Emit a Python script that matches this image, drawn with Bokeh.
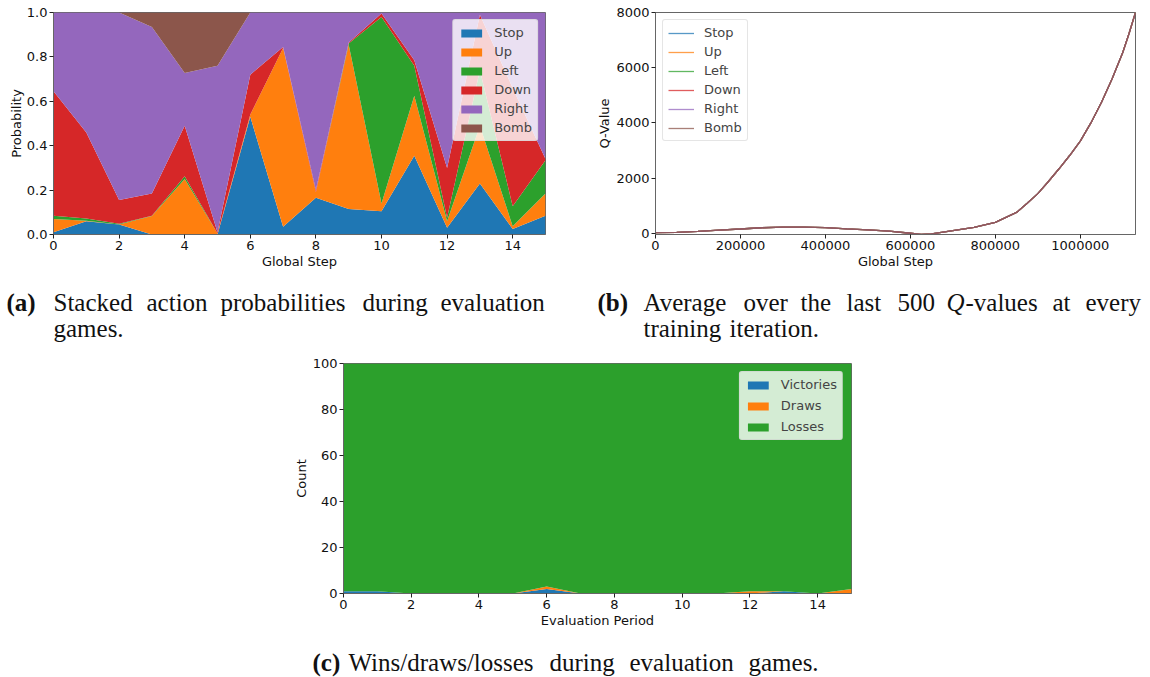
from bokeh.plotting import figure
from bokeh.models import Range1d, FixedTicker, BasicTickFormatter, NumeralTickFormatter, ColumnDataSource, Spacer
from bokeh.layouts import column, row
from bokeh.embed import file_html
from bokeh.resources import INLINE
from bokeh.core.properties import value

# ---------------- data ----------------
steps = list(range(16))
actions = ["Stop", "Up", "Left", "Down", "Right", "Bomb"]
colors = ["#1f77b4", "#ff7f0e", "#2ca02c", "#d62728", "#9467bd", "#8c564b"]

p_stop = [0.010, 0.060, 0.045, 0.000, 0.000, 0.000, 0.530, 0.035, 0.165, 0.115, 0.105, 0.355, 0.030, 0.230, 0.025, 0.085]
p_up = [0.060, 0.002, 0.000, 0.083, 0.250, 0.005, 0.010, 0.805, 0.025, 0.740, 0.035, 0.270, 0.030, 0.260, 0.012, 0.100]
p_left = [0.015, 0.010, 0.003, 0.001, 0.012, 0.000, 0.000, 0.000, 0.000, 0.005, 0.840, 0.135, 0.015, 0.250, 0.090, 0.150]
p_down = [0.560, 0.388, 0.107, 0.101, 0.228, 0.005, 0.180, 0.005, 0.010, 0.005, 0.015, 0.025, 0.225, 0.250, 0.533, 0.005]
p_right = [0.355, 0.540, 0.845, 0.750, 0.238, 0.750, 0.280, 0.155, 0.800, 0.135, 0.005, 0.215, 0.700, 0.010, 0.340, 0.660]
p_bomb = [0.000, 0.000, 0.000, 0.065, 0.272, 0.240, 0.000, 0.000, 0.000, 0.000, 0.000, 0.000, 0.000, 0.000, 0.000, 0.000]

q_steps = [0, 50000, 100000, 150000, 200000, 250000, 300000, 350000, 400000, 450000, 500000,
           550000, 600000, 625000, 650000, 700000, 750000, 800000, 850000, 875000, 900000,
           925000, 950000, 975000, 1000000, 1025000, 1050000, 1075000, 1100000, 1115000, 1130000]
q_avg = [25, 35, 75, 120, 160, 205, 230, 230, 210, 165, 125,
         85, 5, -35, -15, 100, 220, 400, 760, 1090, 1440,
         1880, 2340, 2820, 3340, 4000, 4750, 5600, 6550, 7250, 8000]

periods = list(range(16))
victories = [1, 1, 0, 0, 0, 0, 2, 0, 0, 0, 0, 0, 0, 1, 0, 0]
draws = [0, 0, 0, 0, 0, 0, 1, 0, 0, 0, 0, 0, 1, 0, 0, 2]
losses = [99, 99, 100, 100, 100, 100, 97, 100, 100, 100, 100, 100, 99, 99, 100, 98]
outcomes = ["Victories", "Draws", "Losses"]

a_ticks = [0, 2, 4, 6, 8, 10, 12, 14]
a_yticks = [0.0, 0.2, 0.4, 0.6, 0.8, 1.0]
b_xticks = [0, 200000, 400000, 600000, 800000, 1000000]
b_yticks = [0, 2000, 4000, 6000, 8000]
c_yticks = [0, 20, 40, 60, 80, 100]

cap_a1 = ["Stacked", "action", "probabilities", "during", "evaluation"]
cap_a2 = ["games."]
cap_b1a = ["Average", "over", "the", "last", "500"]
cap_b1q = "Q"
cap_b1b = ["-values", "at", "every"]
cap_b2 = ["training", "iteration."]
cap_c = ["Wins/draws/losses", "during", "evaluation", "games."]

FONT = "DejaVu Sans"
SERIF = "Liberation Serif"
CAP_SIZE = "25px"


def style(p, xlabel, ylabel):
    p.grid.visible = False
    p.xaxis.axis_label = xlabel
    p.yaxis.axis_label = ylabel
    for ax in p.axis:
        ax.axis_label_text_font = FONT
        ax.axis_label_text_font_size = "13px"
        ax.axis_label_text_font_style = "normal"
        ax.axis_label_text_color = "#111111"
        ax.major_label_text_font = FONT
        ax.major_label_text_font_size = "13px"
        ax.major_label_text_color = "#111111"
        ax.major_tick_out = 4
        ax.major_tick_in = 0
        ax.minor_tick_out = 0
        ax.minor_tick_in = 0
        ax.axis_line_color = "#666666"
        ax.major_tick_line_color = "#222222"
        ax.axis_label_standoff = 1
        ax.major_label_standoff = 2
    p.outline_line_color = "#666666"
    p.background_fill_color = "white"
    p.border_fill_color = "white"


def style_legend(p, loc, margin):
    lg = p.legend[0]
    lg.location = loc
    lg.margin = margin
    lg.label_text_font = FONT
    lg.label_text_font_size = "13px"
    lg.label_height = 15
    lg.glyph_height = 10
    lg.glyph_width = 26
    lg.spacing = 4
    lg.padding = 5
    lg.label_standoff = 10
    lg.border_line_color = "#cccccc"
    lg.background_fill_alpha = 0.8
    lg.border_radius = 3


def caption_fig(h):
    c = figure(width=1150, height=h, x_range=Range1d(0, 1150), y_range=Range1d(0, h),
               min_border=0, output_backend="svg", toolbar_location=None)
    c.axis.visible = False
    c.grid.visible = False
    c.outline_line_color = None
    return c


def words(c, xs, y, texts, style="normal"):
    c.text(x=xs, y=[y] * len(xs), text=texts, text_font=value(SERIF), text_font_size=CAP_SIZE,
           text_font_style=style, text_baseline="middle", text_color="#111111")


# ---------------- panel a ----------------
pa = figure(frame_width=492, frame_height=222, min_border_left=53, min_border_right=40,
            min_border_top=12, min_border_bottom=44, x_range=Range1d(0, 15), y_range=Range1d(0, 1),
            output_backend="svg", toolbar_location=None)
src_a = ColumnDataSource(dict(step=steps, Stop=p_stop, Up=p_up, Left=p_left, Down=p_down,
                              Right=p_right, Bomb=p_bomb))
pa.varea_stack(stackers=actions, x="step", color=colors, source=src_a, legend_label=actions)
style(pa, "Global Step", "Probability")
pa.yaxis.axis_label_standoff = 0
pa.xaxis.ticker = FixedTicker(ticks=a_ticks)
pa.yaxis.ticker = FixedTicker(ticks=a_yticks)
pa.yaxis.formatter = NumeralTickFormatter(format="0.0")
style_legend(pa, "top_right", 7)

# ---------------- panel b ----------------
pb = figure(frame_width=480, frame_height=222, min_border_left=70, min_border_right=15,
            min_border_top=12, min_border_bottom=44, x_range=Range1d(0, 1130000), y_range=Range1d(-40, 8000),
            output_backend="svg", toolbar_location=None)
for name, col in zip(actions, colors):
    pb.line(q_steps, q_avg, line_color=col, line_width=1.3, line_alpha=0.75, legend_label=name)
style(pb, "Global Step", "Q-Value")
pb.xaxis.ticker = FixedTicker(ticks=b_xticks)
pb.yaxis.ticker = FixedTicker(ticks=b_yticks)
pb.xaxis.formatter = BasicTickFormatter(use_scientific=False)
style_legend(pb, "top_left", 7)

# ---------------- captions a/b ----------------
cab = caption_fig(67)
words(cab, [6, 597], 43, ["(a)", "(b)"], "bold")
words(cab, [53, 146, 220, 362, 440], 43, cap_a1)
words(cab, [53], 17, cap_a2)
words(cab, [643, 743, 800, 846, 897], 43, cap_b1a)
words(cab, [946], 43, [cap_b1q], "italic")
words(cab, [965, 1052, 1085], 43, cap_b1b)
words(cab, [643, 729], 17, cap_b2)

# ---------------- panel c ----------------
pc = figure(frame_width=508, frame_height=230, min_border_left=53, min_border_right=10,
            min_border_top=18, min_border_bottom=37, x_range=Range1d(0, 15), y_range=Range1d(0, 100),
            output_backend="svg", toolbar_location=None)
src_c = ColumnDataSource(dict(period=periods, Victories=victories, Draws=draws, Losses=losses))
pc.varea_stack(stackers=outcomes, x="period", color=colors[:3], source=src_c, legend_label=outcomes)
style(pc, "Evaluation Period", "Count")
pc.xaxis.ticker = FixedTicker(ticks=a_ticks)
pc.yaxis.ticker = FixedTicker(ticks=c_yticks)
style_legend(pc, "top_right", 8)
pc.legend[0].label_height = 14
pc.legend[0].spacing = 6

cc = caption_fig(47)
words(cc, [312], 15, ["(c)"], "bold")
words(cc, [348, 549, 629, 748], 15, cap_c)

layout = column(row(pa, pb), cab, row(Spacer(width=290, height=285), pc), cc)
open("out.html", "w").write(file_html(layout, INLINE))
